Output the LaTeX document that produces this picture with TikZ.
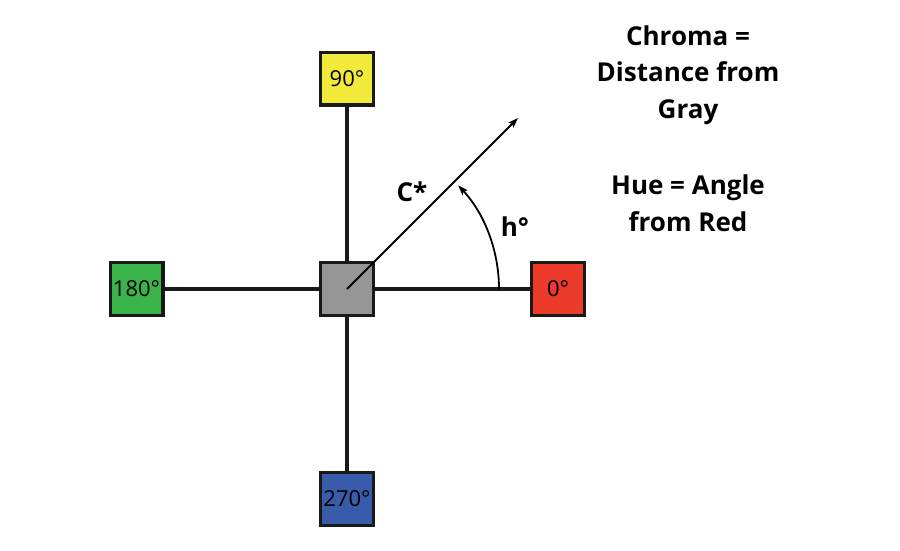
\documentclass[tikz,border=0pt]{standalone}
\usepackage{fontspec}
\setmainfont{Open Sans}
\usetikzlibrary{arrows.meta}
\definecolor{hueyellow}{RGB}{242,234,58}
\definecolor{huered}{RGB}{236,58,42}
\definecolor{huegreen}{RGB}{58,180,74}
\definecolor{hueblue}{RGB}{56,92,170}
\definecolor{huegray}{RGB}{150,150,150}

\begin{document}
\begin{tikzpicture}[x=1pt, y=-1pt,
	huebox/.style={draw=black!90, line width=3.4pt, minimum size=52.6pt, inner sep=0pt, font=\fontsize{22}{24}\selectfont},
	axis/.style={line width=3.4pt, draw=black!90},
	bigtext/.style={font=\fontsize{26}{36.7}\selectfont\bfseries, align=center}]
			%%%%% START %%%%%
			
			\useasboundingbox (0, 0) rectangle (900, 550);
			
			\node[huebox, fill=huegray] (gray) at (347, 289) {};
			\node[huebox, fill=hueyellow] (yellow) at (347, 78.5) {90°};
			\node[huebox, fill=huered] (red) at (558, 289) {0°};
			\node[huebox, fill=huegreen] (green) at (136.5, 289) {180°};
			\node[huebox, fill=hueblue] (blue) at (347, 499) {270°};
			
			\draw[axis] (gray) -- (yellow);
			\draw[axis] (gray) -- (red);
			\draw[axis] (gray) -- (green);
			\draw[axis] (gray) -- (blue);
			
			\coordinate (chromatip) at (518, 118);
			\draw[line width=1.8pt, -{Stealth[length=10pt, width=7pt, inset=2pt]}] (gray.center) -- (chromatip);
			
			\coordinate (huestart) at (499, 289);
			\draw[line width=1.8pt, -{Stealth[length=10pt, width=7pt, inset=2pt]}] (huestart) arc[start angle=0, end angle=-43, radius=152];
			
			\node[font=\fontsize{26}{28}\selectfont\bfseries] (chromalabel) at (412, 192) {C*};
			\node[font=\fontsize{26}{28}\selectfont\bfseries] (huelabel) at (515, 227) {h°};
			
			\node[bigtext] (chromatext) at (688, 75) {Chroma =\\Distance from\\Gray};
			\node[bigtext] (huetext) at (688, 203) {Hue = Angle\\from Red};
			
			%%%%% END %%%%%
\end{tikzpicture}
\end{document}
